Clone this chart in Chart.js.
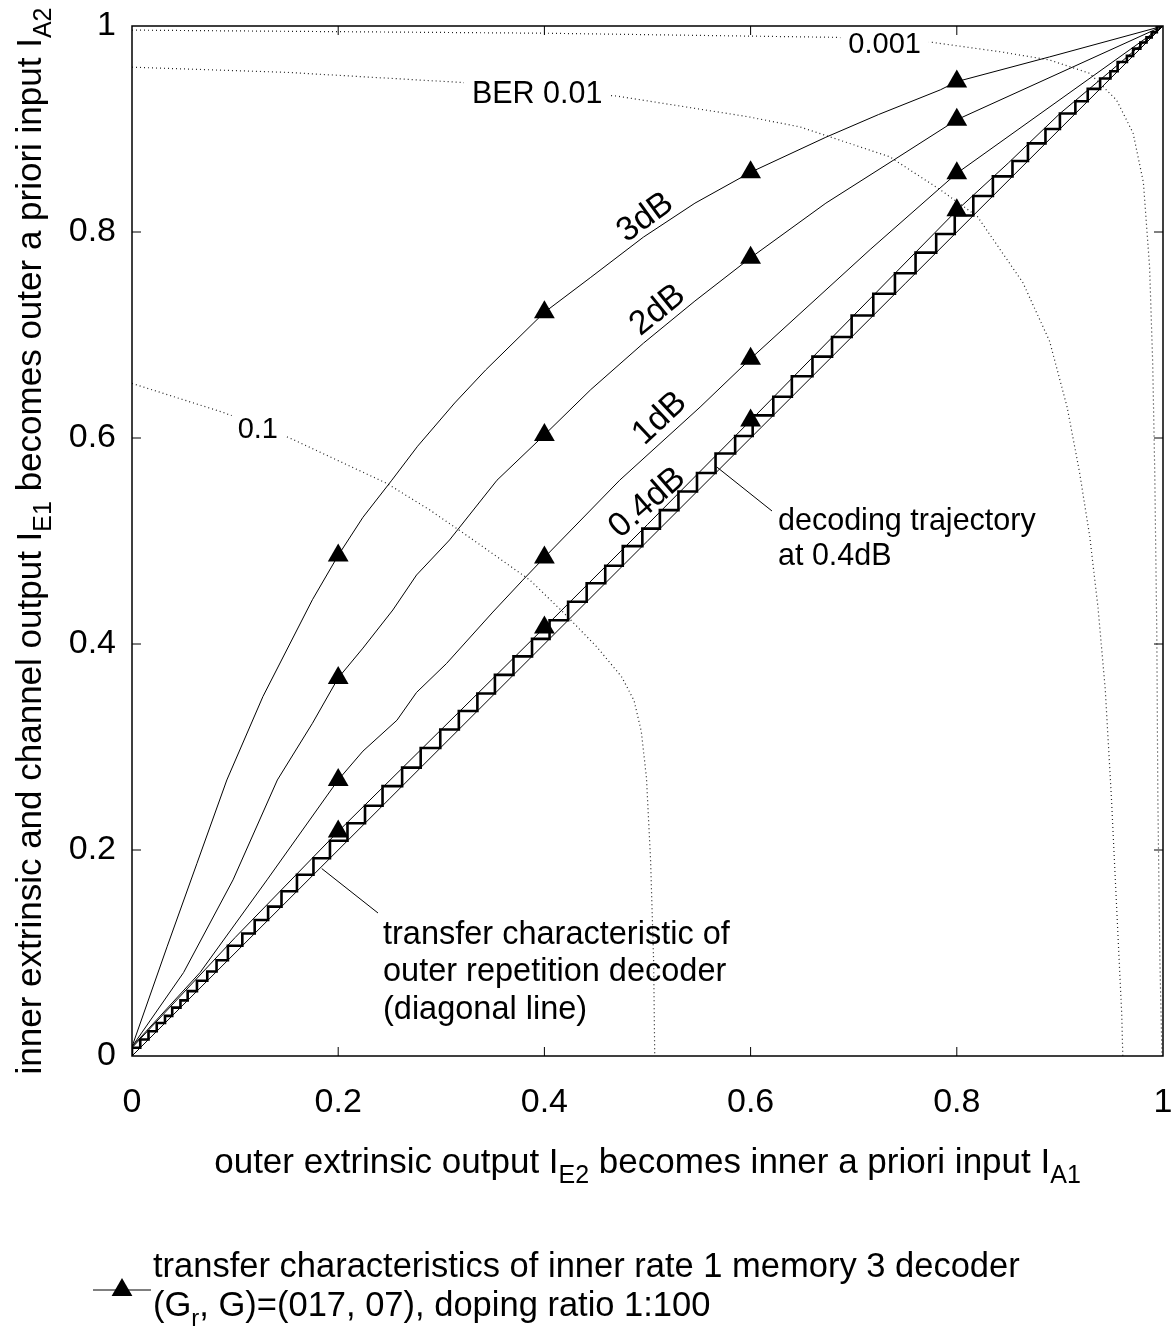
<!DOCTYPE html>
<html>
<head>
<meta charset="utf-8">
<script src="https://cdn.jsdelivr.net/npm/chart.js@4.4.1/dist/chart.umd.min.js"></script>
<style>
  html, body { margin: 0; padding: 0; background: #fff; }
  #wrap { width: 1176px; height: 1336px; }
</style>
</head>
<body>
<div id="wrap"><canvas id="exit" width="1176" height="1336"></canvas></div>
<script>
const FONT = '"Liberation Sans", Arial, Helvetica, sans-serif'

const tickValues = [0, 0.2, 0.4, 0.6, 0.8, 1]
const tickLabels = ['0', '0.2', '0.4', '0.6', '0.8', '1']
const markerX = [0.2, 0.4, 0.6, 0.8]

// inner decoder transfer characteristics (3, 2, 1, 0.4 dB)
const x3dB = [0, 0.034, 0.063, 0.092, 0.127, 0.175, 0.2, 0.224, 0.252, 0.277, 0.313, 0.343, 0.4, 0.445, 0.496, 0.546, 0.6, 0.673, 0.724, 0.784, 0.8, 0.89, 1]
const y3dB = [0.009, 0.106, 0.187, 0.268, 0.349, 0.443, 0.486, 0.523, 0.559, 0.592, 0.634, 0.666, 0.722, 0.756, 0.795, 0.828, 0.858, 0.892, 0.914, 0.938, 0.946, 0.970, 1]

const x2dB = [0, 0.050, 0.098, 0.141, 0.175, 0.2, 0.224, 0.253, 0.276, 0.308, 0.354, 0.4, 0.445, 0.496, 0.546, 0.6, 0.673, 0.739, 0.8, 1]
const y2dB = [0.009, 0.081, 0.171, 0.268, 0.323, 0.367, 0.396, 0.433, 0.467, 0.501, 0.559, 0.603, 0.647, 0.692, 0.733, 0.775, 0.828, 0.870, 0.909, 1]

const x1dB = [0, 0.066, 0.131, 0.195, 0.2, 0.224, 0.257, 0.276, 0.305, 0.350, 0.379, 0.4, 0.473, 0.551, 0.6, 0.716, 0.8, 1]
const y1dB = [0.009, 0.081, 0.171, 0.261, 0.268, 0.296, 0.326, 0.353, 0.381, 0.431, 0.462, 0.484, 0.559, 0.630, 0.677, 0.783, 0.857, 1]

const x04dB = [0, 0.1, 0.2, 0.3, 0.4, 0.5, 0.6, 0.7, 0.8, 0.85, 0.9, 0.95, 1]
const y04dB = [0.008, 0.115, 0.218, 0.317, 0.416, 0.516, 0.617, 0.719, 0.821, 0.867, 0.915, 0.957, 1]

// outer repetition decoder (diagonal)
const xDiag = [0, 1]
const yDiag = [0, 1]

// decoding trajectory at 0.4dB: mutual information after each half iteration
const trajSteps = [0, 0.008, 0.016, 0.024, 0.032, 0.039, 0.047, 0.054, 0.063, 0.073, 0.082, 0.093, 0.107, 0.119, 0.132, 0.145, 0.160, 0.176, 0.192, 0.209, 0.226, 0.243, 0.262, 0.280, 0.299, 0.317, 0.335, 0.352, 0.370, 0.388, 0.405, 0.423, 0.441, 0.459, 0.476, 0.495, 0.512, 0.530, 0.548, 0.566, 0.585, 0.602, 0.622, 0.640, 0.660, 0.679, 0.698, 0.719, 0.740, 0.760, 0.780, 0.798, 0.816, 0.835, 0.854, 0.869, 0.886, 0.900, 0.915, 0.927, 0.939, 0.949, 0.956, 0.965, 0.971, 0.978, 0.984, 0.989, 0.994, 1]

// BER contours
const xBer1 = [0, 0.088, 0.153, 0.247, 0.289, 0.331, 0.386, 0.418, 0.451, 0.475, 0.487, 0.494, 0.499, 0.503, 0.506, 0.507]
const yBer1 = [0.653, 0.625, 0.600, 0.556, 0.530, 0.501, 0.462, 0.431, 0.397, 0.368, 0.345, 0.315, 0.27, 0.19, 0.09, 0]

const xBer2 = [0, 0.15, 0.323, 0.470, 0.597, 0.648, 0.735, 0.784, 0.820, 0.864, 0.890, 0.907, 0.919, 0.929, 0.937, 0.944, 0.950, 0.955, 0.960, 0.961]
const yBer2 = [0.960, 0.955, 0.945, 0.932, 0.912, 0.902, 0.873, 0.841, 0.815, 0.751, 0.694, 0.630, 0.567, 0.504, 0.435, 0.356, 0.250, 0.145, 0.040, 0]

const xBer3 = [0, 0.4, 0.683, 0.777, 0.842, 0.890, 0.929, 0.955, 0.971, 0.981, 0.987, 0.990, 0.992, 0.994, 0.995, 0.997, 0.999]
const yBer3 = [0.996, 0.993, 0.989, 0.984, 0.975, 0.967, 0.954, 0.928, 0.896, 0.848, 0.766, 0.673, 0.567, 0.409, 0.250, 0.092, 0]

function zip(xs, ys) {
  return xs.map((v, i) => ({ x: v, y: ys[i] }))
}

function staircase(steps) {
  const pts = []
  for (let i = 0; i < steps.length - 1; i++) {
    pts.push({ x: steps[i], y: steps[i] })
    pts.push({ x: steps[i], y: steps[i + 1] })
  }
  const last = steps[steps.length - 1]
  pts.push({ x: last, y: last })
  return pts
}

const markerRadius = (ctx) => (ctx.raw && markerX.includes(ctx.raw.x) ? 12 : 0)

function curve(label, xs, ys) {
  return {
    label,
    data: zip(xs, ys),
    showLine: true,
    borderColor: '#000',
    backgroundColor: '#000',
    borderWidth: 1,
    pointStyle: 'triangle',
    pointRadius: markerRadius,
    pointBorderWidth: 0,
    order: 0
  }
}

function contour(label, xs, ys) {
  return {
    label,
    data: zip(xs, ys),
    showLine: true,
    borderColor: '#222',
    borderWidth: 1.2,
    borderDash: [1, 3],
    pointRadius: 0,
    order: 3
  }
}

// draw text made of plain and subscript parts
function drawRich(ctx, parts, x, y, size, align) {
  const subSize = Math.round(size * 0.7)
  let total = 0
  parts.forEach((p) => {
    ctx.font = `${p[1] ? subSize : size}px ${FONT}`
    total += ctx.measureText(p[0]).width
  })
  let cx = align === 'center' ? x - total / 2 : x
  ctx.textAlign = 'left'
  ctx.textBaseline = 'middle'
  parts.forEach((p) => {
    ctx.font = `${p[1] ? subSize : size}px ${FONT}`
    ctx.fillText(p[0], cx, p[1] ? y + size * 0.38 : y)
    cx += ctx.measureText(p[0]).width
  })
}

const overlay = {
  id: 'overlay',
  afterDraw(chart) {
    const { ctx, chartArea: a, scales } = chart
    const px = (v) => scales.x.getPixelForValue(v)
    const py = (v) => scales.y.getPixelForValue(v)
    ctx.save()
    ctx.fillStyle = '#000'
    ctx.strokeStyle = '#000'

    // frame and inward ticks on all four sides
    ctx.lineWidth = 1.5
    ctx.strokeRect(a.left, a.top, a.right - a.left, a.bottom - a.top)
    ctx.lineWidth = 1
    ctx.beginPath()
    tickValues.slice(1, -1).forEach((v) => {
      ctx.moveTo(px(v), a.bottom); ctx.lineTo(px(v), a.bottom - 9)
      ctx.moveTo(px(v), a.top); ctx.lineTo(px(v), a.top + 9)
      ctx.moveTo(a.left, py(v)); ctx.lineTo(a.left + 9, py(v))
      ctx.moveTo(a.right, py(v)); ctx.lineTo(a.right - 9, py(v))
    })
    ctx.stroke()

    // tick labels
    ctx.font = `34px ${FONT}`
    ctx.textBaseline = 'middle'
    ctx.textAlign = 'center'
    tickValues.forEach((v, i) => ctx.fillText(tickLabels[i], px(v), a.bottom + 47))
    ctx.textAlign = 'right'
    tickValues.forEach((v, i) => ctx.fillText(tickLabels[i], a.left - 16, py(v)))

    // BER contour labels, cut into the dotted lines
    const berLabels = [['0.001', 0.730, 0.982, 29], ['BER 0.01', 0.393, 0.933, 30.5], ['0.1', 0.122, 0.608, 29]]
    ctx.textAlign = 'center'
    berLabels.forEach(([t, vx, vy, size]) => {
      ctx.font = `${size}px ${FONT}`
      const w = ctx.measureText(t).width + 16
      ctx.fillStyle = '#fff'
      ctx.fillRect(px(vx) - w / 2, py(vy) - 14, w, 28)
      ctx.fillStyle = '#000'
      ctx.fillText(t, px(vx), py(vy))
    })

    // SNR labels along the curves
    const snrLabels = [['3dB', 0.498, 0.814, -36], ['2dB', 0.510, 0.724, -39], ['1dB', 0.512, 0.619, -43], ['0.4dB', 0.500, 0.537, -41]]
    ctx.font = `34px ${FONT}`
    snrLabels.forEach(([t, vx, vy, ang]) => {
      ctx.save()
      ctx.translate(px(vx), py(vy))
      ctx.rotate(ang * Math.PI / 180)
      ctx.fillText(t, 0, 0)
      ctx.restore()
    })

    // annotations with leader lines
    ctx.textAlign = 'left'
    ctx.font = `30.5px ${FONT}`
    ctx.fillText('decoding trajectory', 778, 522)
    ctx.fillText('at 0.4dB', 778, 557)
    ctx.font = `32.5px ${FONT}`
    ctx.fillText('transfer characteristic of', 383, 935)
    ctx.fillText('outer repetition decoder', 383, 972)
    ctx.fillText('(diagonal line)', 383, 1010)
    ctx.lineWidth = 1
    ctx.beginPath()
    ctx.moveTo(px(0.567), py(0.572)); ctx.lineTo(772, 511)
    ctx.moveTo(px(0.184), py(0.182)); ctx.lineTo(378, 913)
    ctx.stroke()

    // axis titles
    drawRich(ctx, [['outer extrinsic output I'], ['E2', 1], [' becomes inner a priori input I'], ['A1', 1]], (a.left + a.right) / 2, 1163, 35, 'center')
    ctx.save()
    ctx.translate(31, (a.top + a.bottom) / 2)
    ctx.rotate(-Math.PI / 2)
    drawRich(ctx, [['inner extrinsic and channel output I'], ['E1', 1], [' becomes outer a priori input I'], ['A2', 1]], 0, 0, 35, 'center')
    ctx.restore()

    // legend
    ctx.lineWidth = 1
    ctx.beginPath()
    ctx.moveTo(93, 1290); ctx.lineTo(151, 1290)
    ctx.stroke()
    ctx.beginPath()
    ctx.moveTo(122, 1278); ctx.lineTo(132.4, 1296); ctx.lineTo(111.6, 1296); ctx.closePath()
    ctx.fill()
    drawRich(ctx, [['transfer characteristics of inner rate 1 memory 3 decoder']], 153, 1267, 34.5, 'left')
    drawRich(ctx, [['(G'], ['r', 1], [', G)=(017, 07), doping ratio 1:100']], 153, 1306, 34.5, 'left')
    ctx.restore()
  }
}

new Chart(document.getElementById('exit'), {
  type: 'scatter',
  data: {
    datasets: [
      curve('3dB', x3dB, y3dB),
      curve('2dB', x2dB, y2dB),
      curve('1dB', x1dB, y1dB),
      curve('0.4dB', x04dB, y04dB),
      {
        label: 'trajectory 0.4dB',
        data: staircase(trajSteps),
        showLine: true,
        borderColor: '#000',
        borderWidth: 2.6,
        borderJoinStyle: 'miter',
        pointRadius: 0,
        order: 1
      },
      {
        label: 'outer repetition decoder',
        data: zip(xDiag, yDiag),
        showLine: true,
        borderColor: '#000',
        borderWidth: 1,
        pointRadius: 0,
        order: 2
      },
      contour('BER 0.1', xBer1, yBer1),
      contour('BER 0.01', xBer2, yBer2),
      contour('BER 0.001', xBer3, yBer3)
    ]
  },
  options: {
    responsive: false,
    animation: false,
    layout: { padding: { top: 26, right: 13, left: 132, bottom: 280 } },
    plugins: { legend: { display: false }, tooltip: { enabled: false } },
    scales: {
      x: { type: 'linear', min: 0, max: 1, display: false },
      y: { type: 'linear', min: 0, max: 1, display: false }
    }
  },
  plugins: [overlay]
})
</script>
</body>
</html>
